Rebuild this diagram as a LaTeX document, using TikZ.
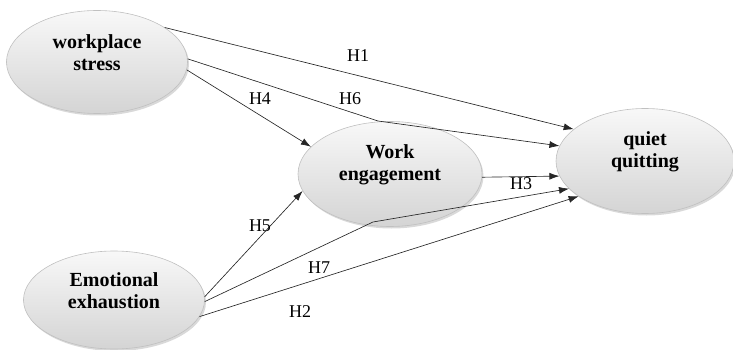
\documentclass[tikz,border=0pt]{standalone}
\usepackage{fontspec}
\setmainfont{Liberation Serif}
\usetikzlibrary{shapes.geometric,arrows.meta,shadows}

\definecolor{shadetop}{HTML}{F8F8F8}
\definecolor{shadebot}{HTML}{D4D4D4}
\definecolor{rimgray}{HTML}{C0C0C0}
\definecolor{pathgray}{HTML}{262626}

\begin{document}
\begin{tikzpicture}[x=1pt, y=-1pt]
    \tikzstyle{construct}=[ellipse, draw=rimgray, line width=0.6pt,
                           top color=shadetop, bottom color=shadebot,
                           minimum width=181pt, minimum height=103pt, inner sep=0pt,
                           drop shadow={shadow xshift=1.5pt, shadow yshift=-2pt, opacity=0.3}]
    \tikzstyle{cname}=[font=\fontsize{20}{22}\selectfont\bfseries, align=center, yshift=9pt]
    \tikzstyle{hyp}=[draw=pathgray, line width=0.65pt, -{Latex[length=10pt, width=7pt]}]
    \tikzstyle{hlabel}=[font=\fontsize{18}{20}\selectfont, inner sep=0pt]

    \useasboundingbox (0,0) rectangle (733,350);

    % latent constructs
    \node[construct, label={[cname]center:{workplace\\stress}}] (ws) at (97,62) {};
    \node[construct, minimum height=98pt,
          label={[cname]center:{Emotional\\exhaustion}}] (ee) at (114,300) {};
    \node[construct, minimum width=184pt, minimum height=105pt,
          label={[cname]center:{Work\\engagement}}] (we) at (390,174) {};
    \node[construct, minimum width=178pt, minimum height=105pt,
          label={[cname]center:{quiet\\quitting}}] (qq) at (645,161) {};

    % bends of the two mediated paths
    \coordinate (h6bend) at (378,121);
    \coordinate (h7bend) at (373,222);

    % hypotheses
    \draw[hyp] (ws.27) -- (qq.156) node[hlabel] at (358,56) {H1};
    \draw[hyp] (ws.2.5) -- (h6bend) -- (qq.170) node[hlabel] at (350,99) {H6};
    \draw[hyp] (ws.-5) -- (we.161) node[hlabel] at (260,99) {H4};
    \draw[hyp] (we.-2) -- (qq.190) node[hlabel] at (521,184) {H3};
    \draw[hyp] (ee.2) -- (we.191) node[hlabel] at (260,226) {H5};
    \draw[hyp] (ee.-1) -- (h7bend) -- (qq.200) node[hlabel] at (319,268) {H7};
    \draw[hyp] (ee.-11) -- (qq.208) node[hlabel] at (300,312) {H2};
\end{tikzpicture}
\end{document}
